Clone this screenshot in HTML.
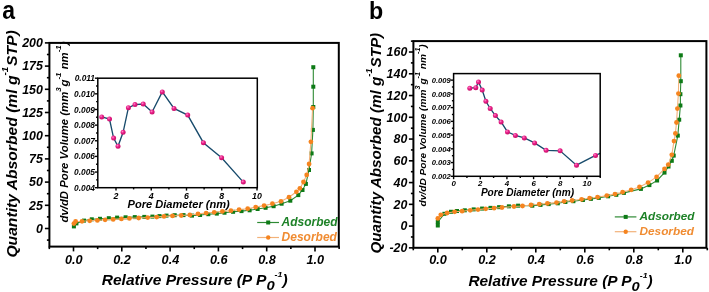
<!DOCTYPE html>
<html><head><meta charset="utf-8"><style>
html,body{margin:0;padding:0;background:#fff;width:709px;height:292px;overflow:hidden}
svg{display:block;will-change:transform}
</style></head><body>
<svg width="709" height="292" viewBox="0 0 709 292">
<rect width="709" height="292" fill="#fff"/>
<rect x="49.4" y="42.9" width="289.4" height="203.7" fill="none" stroke="#000" stroke-width="2"/>
<line x1="44.9" y1="228.5" x2="49.4" y2="228.5" stroke="#000" stroke-width="1.6"/>
<text x="42.9" y="232.7" font-size="12.4" text-anchor="end" fill="#000" font-family="&quot;Liberation Sans&quot;, sans-serif" font-weight="bold" font-style="italic" >0</text>
<line x1="44.9" y1="205.3" x2="49.4" y2="205.3" stroke="#000" stroke-width="1.6"/>
<text x="42.9" y="209.5" font-size="12.4" text-anchor="end" fill="#000" font-family="&quot;Liberation Sans&quot;, sans-serif" font-weight="bold" font-style="italic" >25</text>
<line x1="44.9" y1="182.1" x2="49.4" y2="182.1" stroke="#000" stroke-width="1.6"/>
<text x="42.9" y="186.3" font-size="12.4" text-anchor="end" fill="#000" font-family="&quot;Liberation Sans&quot;, sans-serif" font-weight="bold" font-style="italic" >50</text>
<line x1="44.9" y1="158.9" x2="49.4" y2="158.9" stroke="#000" stroke-width="1.6"/>
<text x="42.9" y="163.1" font-size="12.4" text-anchor="end" fill="#000" font-family="&quot;Liberation Sans&quot;, sans-serif" font-weight="bold" font-style="italic" >75</text>
<line x1="44.9" y1="135.7" x2="49.4" y2="135.7" stroke="#000" stroke-width="1.6"/>
<text x="42.9" y="139.9" font-size="12.4" text-anchor="end" fill="#000" font-family="&quot;Liberation Sans&quot;, sans-serif" font-weight="bold" font-style="italic" >100</text>
<line x1="44.9" y1="112.5" x2="49.4" y2="112.5" stroke="#000" stroke-width="1.6"/>
<text x="42.9" y="116.7" font-size="12.4" text-anchor="end" fill="#000" font-family="&quot;Liberation Sans&quot;, sans-serif" font-weight="bold" font-style="italic" >125</text>
<line x1="44.9" y1="89.3" x2="49.4" y2="89.3" stroke="#000" stroke-width="1.6"/>
<text x="42.9" y="93.5" font-size="12.4" text-anchor="end" fill="#000" font-family="&quot;Liberation Sans&quot;, sans-serif" font-weight="bold" font-style="italic" >150</text>
<line x1="44.9" y1="66.1" x2="49.4" y2="66.1" stroke="#000" stroke-width="1.6"/>
<text x="42.9" y="70.3" font-size="12.4" text-anchor="end" fill="#000" font-family="&quot;Liberation Sans&quot;, sans-serif" font-weight="bold" font-style="italic" >175</text>
<line x1="44.9" y1="42.9" x2="49.4" y2="42.9" stroke="#000" stroke-width="1.6"/>
<text x="42.9" y="47.1" font-size="12.4" text-anchor="end" fill="#000" font-family="&quot;Liberation Sans&quot;, sans-serif" font-weight="bold" font-style="italic" >200</text>
<line x1="46.9" y1="216.9" x2="49.4" y2="216.9" stroke="#000" stroke-width="1.6"/>
<line x1="46.9" y1="193.7" x2="49.4" y2="193.7" stroke="#000" stroke-width="1.6"/>
<line x1="46.9" y1="170.5" x2="49.4" y2="170.5" stroke="#000" stroke-width="1.6"/>
<line x1="46.9" y1="147.3" x2="49.4" y2="147.3" stroke="#000" stroke-width="1.6"/>
<line x1="46.9" y1="124.1" x2="49.4" y2="124.1" stroke="#000" stroke-width="1.6"/>
<line x1="46.9" y1="100.9" x2="49.4" y2="100.9" stroke="#000" stroke-width="1.6"/>
<line x1="46.9" y1="77.7" x2="49.4" y2="77.7" stroke="#000" stroke-width="1.6"/>
<line x1="46.9" y1="54.5" x2="49.4" y2="54.5" stroke="#000" stroke-width="1.6"/>
<line x1="46.9" y1="240.1" x2="49.4" y2="240.1" stroke="#000" stroke-width="1.6"/>
<line x1="73.5" y1="246.6" x2="73.5" y2="251.4" stroke="#000" stroke-width="1.6"/>
<text x="73.8" y="263.6" font-size="12.7" text-anchor="middle" fill="#000" font-family="&quot;Liberation Sans&quot;, sans-serif" font-weight="bold" font-style="italic" >0.0</text>
<line x1="121.8" y1="246.6" x2="121.8" y2="251.4" stroke="#000" stroke-width="1.6"/>
<text x="122.1" y="263.6" font-size="12.7" text-anchor="middle" fill="#000" font-family="&quot;Liberation Sans&quot;, sans-serif" font-weight="bold" font-style="italic" >0.2</text>
<line x1="170.1" y1="246.6" x2="170.1" y2="251.4" stroke="#000" stroke-width="1.6"/>
<text x="170.4" y="263.6" font-size="12.7" text-anchor="middle" fill="#000" font-family="&quot;Liberation Sans&quot;, sans-serif" font-weight="bold" font-style="italic" >0.4</text>
<line x1="218.4" y1="246.6" x2="218.4" y2="251.4" stroke="#000" stroke-width="1.6"/>
<text x="218.7" y="263.6" font-size="12.7" text-anchor="middle" fill="#000" font-family="&quot;Liberation Sans&quot;, sans-serif" font-weight="bold" font-style="italic" >0.6</text>
<line x1="266.7" y1="246.6" x2="266.7" y2="251.4" stroke="#000" stroke-width="1.6"/>
<text x="267" y="263.6" font-size="12.7" text-anchor="middle" fill="#000" font-family="&quot;Liberation Sans&quot;, sans-serif" font-weight="bold" font-style="italic" >0.8</text>
<line x1="315" y1="246.6" x2="315" y2="251.4" stroke="#000" stroke-width="1.6"/>
<text x="315.3" y="263.6" font-size="12.7" text-anchor="middle" fill="#000" font-family="&quot;Liberation Sans&quot;, sans-serif" font-weight="bold" font-style="italic" >1.0</text>
<line x1="49.35" y1="246.6" x2="49.35" y2="249.1" stroke="#000" stroke-width="1.6"/>
<line x1="97.65" y1="246.6" x2="97.65" y2="249.1" stroke="#000" stroke-width="1.6"/>
<line x1="145.95" y1="246.6" x2="145.95" y2="249.1" stroke="#000" stroke-width="1.6"/>
<line x1="194.25" y1="246.6" x2="194.25" y2="249.1" stroke="#000" stroke-width="1.6"/>
<line x1="242.55" y1="246.6" x2="242.55" y2="249.1" stroke="#000" stroke-width="1.6"/>
<line x1="290.85" y1="246.6" x2="290.85" y2="249.1" stroke="#000" stroke-width="1.6"/>
<line x1="339.15" y1="246.6" x2="339.15" y2="249.1" stroke="#000" stroke-width="1.6"/>
<rect x="413.4" y="41.1" width="293" height="206.7" fill="none" stroke="#000" stroke-width="2"/>
<line x1="408.9" y1="247.86" x2="413.4" y2="247.86" stroke="#000" stroke-width="1.6"/>
<text x="407.3" y="252.06" font-size="12.4" text-anchor="end" fill="#000" font-family="&quot;Liberation Sans&quot;, sans-serif" font-weight="bold" font-style="italic" >-20</text>
<line x1="408.9" y1="226.1" x2="413.4" y2="226.1" stroke="#000" stroke-width="1.6"/>
<text x="407.3" y="230.3" font-size="12.4" text-anchor="end" fill="#000" font-family="&quot;Liberation Sans&quot;, sans-serif" font-weight="bold" font-style="italic" >0</text>
<line x1="408.9" y1="204.34" x2="413.4" y2="204.34" stroke="#000" stroke-width="1.6"/>
<text x="407.3" y="208.54" font-size="12.4" text-anchor="end" fill="#000" font-family="&quot;Liberation Sans&quot;, sans-serif" font-weight="bold" font-style="italic" >20</text>
<line x1="408.9" y1="182.58" x2="413.4" y2="182.58" stroke="#000" stroke-width="1.6"/>
<text x="407.3" y="186.78" font-size="12.4" text-anchor="end" fill="#000" font-family="&quot;Liberation Sans&quot;, sans-serif" font-weight="bold" font-style="italic" >40</text>
<line x1="408.9" y1="160.82" x2="413.4" y2="160.82" stroke="#000" stroke-width="1.6"/>
<text x="407.3" y="165.02" font-size="12.4" text-anchor="end" fill="#000" font-family="&quot;Liberation Sans&quot;, sans-serif" font-weight="bold" font-style="italic" >60</text>
<line x1="408.9" y1="139.06" x2="413.4" y2="139.06" stroke="#000" stroke-width="1.6"/>
<text x="407.3" y="143.26" font-size="12.4" text-anchor="end" fill="#000" font-family="&quot;Liberation Sans&quot;, sans-serif" font-weight="bold" font-style="italic" >80</text>
<line x1="408.9" y1="117.3" x2="413.4" y2="117.3" stroke="#000" stroke-width="1.6"/>
<text x="407.3" y="121.5" font-size="12.4" text-anchor="end" fill="#000" font-family="&quot;Liberation Sans&quot;, sans-serif" font-weight="bold" font-style="italic" >100</text>
<line x1="408.9" y1="95.54" x2="413.4" y2="95.54" stroke="#000" stroke-width="1.6"/>
<text x="407.3" y="99.74" font-size="12.4" text-anchor="end" fill="#000" font-family="&quot;Liberation Sans&quot;, sans-serif" font-weight="bold" font-style="italic" >120</text>
<line x1="408.9" y1="73.78" x2="413.4" y2="73.78" stroke="#000" stroke-width="1.6"/>
<text x="407.3" y="77.98" font-size="12.4" text-anchor="end" fill="#000" font-family="&quot;Liberation Sans&quot;, sans-serif" font-weight="bold" font-style="italic" >140</text>
<line x1="408.9" y1="52.02" x2="413.4" y2="52.02" stroke="#000" stroke-width="1.6"/>
<text x="407.3" y="56.22" font-size="12.4" text-anchor="end" fill="#000" font-family="&quot;Liberation Sans&quot;, sans-serif" font-weight="bold" font-style="italic" >160</text>
<line x1="410.9" y1="236.98" x2="413.4" y2="236.98" stroke="#000" stroke-width="1.6"/>
<line x1="410.9" y1="215.22" x2="413.4" y2="215.22" stroke="#000" stroke-width="1.6"/>
<line x1="410.9" y1="193.46" x2="413.4" y2="193.46" stroke="#000" stroke-width="1.6"/>
<line x1="410.9" y1="171.7" x2="413.4" y2="171.7" stroke="#000" stroke-width="1.6"/>
<line x1="410.9" y1="149.94" x2="413.4" y2="149.94" stroke="#000" stroke-width="1.6"/>
<line x1="410.9" y1="128.18" x2="413.4" y2="128.18" stroke="#000" stroke-width="1.6"/>
<line x1="410.9" y1="106.42" x2="413.4" y2="106.42" stroke="#000" stroke-width="1.6"/>
<line x1="410.9" y1="84.66" x2="413.4" y2="84.66" stroke="#000" stroke-width="1.6"/>
<line x1="410.9" y1="62.9" x2="413.4" y2="62.9" stroke="#000" stroke-width="1.6"/>
<line x1="410.9" y1="41.14" x2="413.4" y2="41.14" stroke="#000" stroke-width="1.6"/>
<line x1="437.8" y1="247.8" x2="437.8" y2="252.6" stroke="#000" stroke-width="1.6"/>
<text x="438.1" y="264.3" font-size="12.7" text-anchor="middle" fill="#000" font-family="&quot;Liberation Sans&quot;, sans-serif" font-weight="bold" font-style="italic" >0.0</text>
<line x1="486.8" y1="247.8" x2="486.8" y2="252.6" stroke="#000" stroke-width="1.6"/>
<text x="487.1" y="264.3" font-size="12.7" text-anchor="middle" fill="#000" font-family="&quot;Liberation Sans&quot;, sans-serif" font-weight="bold" font-style="italic" >0.2</text>
<line x1="535.8" y1="247.8" x2="535.8" y2="252.6" stroke="#000" stroke-width="1.6"/>
<text x="536.1" y="264.3" font-size="12.7" text-anchor="middle" fill="#000" font-family="&quot;Liberation Sans&quot;, sans-serif" font-weight="bold" font-style="italic" >0.4</text>
<line x1="584.8" y1="247.8" x2="584.8" y2="252.6" stroke="#000" stroke-width="1.6"/>
<text x="585.1" y="264.3" font-size="12.7" text-anchor="middle" fill="#000" font-family="&quot;Liberation Sans&quot;, sans-serif" font-weight="bold" font-style="italic" >0.6</text>
<line x1="633.8" y1="247.8" x2="633.8" y2="252.6" stroke="#000" stroke-width="1.6"/>
<text x="634.1" y="264.3" font-size="12.7" text-anchor="middle" fill="#000" font-family="&quot;Liberation Sans&quot;, sans-serif" font-weight="bold" font-style="italic" >0.8</text>
<line x1="682.8" y1="247.8" x2="682.8" y2="252.6" stroke="#000" stroke-width="1.6"/>
<text x="683.1" y="264.3" font-size="12.7" text-anchor="middle" fill="#000" font-family="&quot;Liberation Sans&quot;, sans-serif" font-weight="bold" font-style="italic" >1.0</text>
<line x1="413.3" y1="247.8" x2="413.3" y2="250.3" stroke="#000" stroke-width="1.6"/>
<line x1="462.3" y1="247.8" x2="462.3" y2="250.3" stroke="#000" stroke-width="1.6"/>
<line x1="511.3" y1="247.8" x2="511.3" y2="250.3" stroke="#000" stroke-width="1.6"/>
<line x1="560.3" y1="247.8" x2="560.3" y2="250.3" stroke="#000" stroke-width="1.6"/>
<line x1="609.3" y1="247.8" x2="609.3" y2="250.3" stroke="#000" stroke-width="1.6"/>
<line x1="658.3" y1="247.8" x2="658.3" y2="250.3" stroke="#000" stroke-width="1.6"/>
<line x1="707.3" y1="247.8" x2="707.3" y2="250.3" stroke="#000" stroke-width="1.6"/>
<path d="M73.9,226.4 L76.4,223.4 L84,220.6 L91.8,219.3 L100,218.8 L108.8,218.2 L117.1,217.6 L125.6,217.3 L134.8,217.1 L144.3,216.9 L152.4,216.6 L159.5,216.1 L166.5,215.6 L174.7,215.2 L183.5,215.1 L192,215.6 L200.1,215 L208.3,214.2 L216.8,213.6 L224.5,212.7 L233.1,211.8 L241.5,211.1 L249.6,210.3 L257.6,209 L265.6,207.8 L273.6,206.2 L281.6,203.7 L290.3,200.7 L298.3,195.1 L302.5,190 L305.9,183.9 L309,170 L311.6,153.4 L312.9,129.9 L313.3,107 L313.3,86.7 L313.3,67.2" fill="none" stroke="#2e8a34" stroke-width="1.1"/>
<rect x="71.9" y="224.4" width="4" height="4" fill="#0d7a16"/>
<rect x="74.4" y="221.4" width="4" height="4" fill="#0d7a16"/>
<rect x="82" y="218.6" width="4" height="4" fill="#0d7a16"/>
<rect x="89.8" y="217.3" width="4" height="4" fill="#0d7a16"/>
<rect x="98" y="216.8" width="4" height="4" fill="#0d7a16"/>
<rect x="106.8" y="216.2" width="4" height="4" fill="#0d7a16"/>
<rect x="115.1" y="215.6" width="4" height="4" fill="#0d7a16"/>
<rect x="123.6" y="215.3" width="4" height="4" fill="#0d7a16"/>
<rect x="132.8" y="215.1" width="4" height="4" fill="#0d7a16"/>
<rect x="142.3" y="214.9" width="4" height="4" fill="#0d7a16"/>
<rect x="150.4" y="214.6" width="4" height="4" fill="#0d7a16"/>
<rect x="157.5" y="214.1" width="4" height="4" fill="#0d7a16"/>
<rect x="164.5" y="213.6" width="4" height="4" fill="#0d7a16"/>
<rect x="172.7" y="213.2" width="4" height="4" fill="#0d7a16"/>
<rect x="181.5" y="213.1" width="4" height="4" fill="#0d7a16"/>
<rect x="190" y="213.6" width="4" height="4" fill="#0d7a16"/>
<rect x="198.1" y="213" width="4" height="4" fill="#0d7a16"/>
<rect x="206.3" y="212.2" width="4" height="4" fill="#0d7a16"/>
<rect x="214.8" y="211.6" width="4" height="4" fill="#0d7a16"/>
<rect x="222.5" y="210.7" width="4" height="4" fill="#0d7a16"/>
<rect x="231.1" y="209.8" width="4" height="4" fill="#0d7a16"/>
<rect x="239.5" y="209.1" width="4" height="4" fill="#0d7a16"/>
<rect x="247.6" y="208.3" width="4" height="4" fill="#0d7a16"/>
<rect x="255.6" y="207" width="4" height="4" fill="#0d7a16"/>
<rect x="263.6" y="205.8" width="4" height="4" fill="#0d7a16"/>
<rect x="271.6" y="204.2" width="4" height="4" fill="#0d7a16"/>
<rect x="279.6" y="201.7" width="4" height="4" fill="#0d7a16"/>
<rect x="288.3" y="198.7" width="4" height="4" fill="#0d7a16"/>
<rect x="296.3" y="193.1" width="4" height="4" fill="#0d7a16"/>
<rect x="300.5" y="188" width="4" height="4" fill="#0d7a16"/>
<rect x="303.9" y="181.9" width="4" height="4" fill="#0d7a16"/>
<rect x="307" y="168" width="4" height="4" fill="#0d7a16"/>
<rect x="309.6" y="151.4" width="4" height="4" fill="#0d7a16"/>
<rect x="310.9" y="127.9" width="4" height="4" fill="#0d7a16"/>
<rect x="311.3" y="105" width="4" height="4" fill="#0d7a16"/>
<rect x="311.3" y="84.7" width="4" height="4" fill="#0d7a16"/>
<rect x="311.3" y="65.2" width="4" height="4" fill="#0d7a16"/>
<path d="M73.9,223.6 L75.6,221.5 L82,221.3 L89.7,220.8 L97.4,220.4 L105.1,219.8 L113.2,219.4 L121.4,218.9 L129.4,218.4 L138.7,218 L147.7,217.6 L156.7,217.1 L164,216.4 L172.5,215.9 L181.2,215.5 L189.8,215 L198,213.9 L206.1,213.1 L214.2,212.3 L222.4,211.4 L230.9,210.7 L239.1,209.6 L247.7,208.7 L255.7,207.1 L264.1,205.6 L272.4,203.7 L281,201.3 L289,197.2 L296.4,191.8 L299.9,188.3 L303.5,182 L306.7,174.9 L309.1,164 L310.9,141.8 L312.6,108.2" fill="none" stroke="#f2b27a" stroke-width="1.1"/>
<circle cx="73.9" cy="223.6" r="2.4" fill="#f5841f"/>
<circle cx="75.6" cy="221.5" r="2.4" fill="#f5841f"/>
<circle cx="82" cy="221.3" r="2.4" fill="#f5841f"/>
<circle cx="89.7" cy="220.8" r="2.4" fill="#f5841f"/>
<circle cx="97.4" cy="220.4" r="2.4" fill="#f5841f"/>
<circle cx="105.1" cy="219.8" r="2.4" fill="#f5841f"/>
<circle cx="113.2" cy="219.4" r="2.4" fill="#f5841f"/>
<circle cx="121.4" cy="218.9" r="2.4" fill="#f5841f"/>
<circle cx="129.4" cy="218.4" r="2.4" fill="#f5841f"/>
<circle cx="138.7" cy="218" r="2.4" fill="#f5841f"/>
<circle cx="147.7" cy="217.6" r="2.4" fill="#f5841f"/>
<circle cx="156.7" cy="217.1" r="2.4" fill="#f5841f"/>
<circle cx="164" cy="216.4" r="2.4" fill="#f5841f"/>
<circle cx="172.5" cy="215.9" r="2.4" fill="#f5841f"/>
<circle cx="181.2" cy="215.5" r="2.4" fill="#f5841f"/>
<circle cx="189.8" cy="215" r="2.4" fill="#f5841f"/>
<circle cx="198" cy="213.9" r="2.4" fill="#f5841f"/>
<circle cx="206.1" cy="213.1" r="2.4" fill="#f5841f"/>
<circle cx="214.2" cy="212.3" r="2.4" fill="#f5841f"/>
<circle cx="222.4" cy="211.4" r="2.4" fill="#f5841f"/>
<circle cx="230.9" cy="210.7" r="2.4" fill="#f5841f"/>
<circle cx="239.1" cy="209.6" r="2.4" fill="#f5841f"/>
<circle cx="247.7" cy="208.7" r="2.4" fill="#f5841f"/>
<circle cx="255.7" cy="207.1" r="2.4" fill="#f5841f"/>
<circle cx="264.1" cy="205.6" r="2.4" fill="#f5841f"/>
<circle cx="272.4" cy="203.7" r="2.4" fill="#f5841f"/>
<circle cx="281" cy="201.3" r="2.4" fill="#f5841f"/>
<circle cx="289" cy="197.2" r="2.4" fill="#f5841f"/>
<circle cx="296.4" cy="191.8" r="2.4" fill="#f5841f"/>
<circle cx="299.9" cy="188.3" r="2.4" fill="#f5841f"/>
<circle cx="303.5" cy="182" r="2.4" fill="#f5841f"/>
<circle cx="306.7" cy="174.9" r="2.4" fill="#f5841f"/>
<circle cx="309.1" cy="164" r="2.4" fill="#f5841f"/>
<circle cx="310.9" cy="141.8" r="2.4" fill="#f5841f"/>
<circle cx="312.6" cy="108.2" r="2.4" fill="#f5841f"/>
<path d="M437.8,225.5 L437.8,222 L444.4,213.8 L451,211.78 L457,211.01 L464.8,210.3 L473.7,209.39 L482.1,208.57 L490.5,207.86 L499.1,207.16 L508.9,206.33 L518.1,205.66 L532.3,205.7 L540.5,204.9 L548.7,204.1 L557.8,203.3 L565.4,202 L573.4,201.2 L582.9,200 L590.9,198.9 L598.8,197.9 L608.1,196.3 L616.3,194.8 L623.9,192.9 L640.9,188.9 L649.4,185.1 L657.1,180.5 L664.5,172.6 L668.5,166.5 L671.8,160.8 L673.7,155.6 L677.8,135.6 L679.2,119.7 L680.4,105.5 L680.4,94.2 L680.8,81.2 L680.8,55.3" fill="none" stroke="#2e8a34" stroke-width="1.1"/>
<rect x="435.8" y="223.5" width="4" height="4" fill="#0d7a16"/>
<rect x="435.8" y="220" width="4" height="4" fill="#0d7a16"/>
<rect x="442.4" y="211.8" width="4" height="4" fill="#0d7a16"/>
<rect x="449" y="209.78" width="4" height="4" fill="#0d7a16"/>
<rect x="455" y="209.01" width="4" height="4" fill="#0d7a16"/>
<rect x="462.8" y="208.3" width="4" height="4" fill="#0d7a16"/>
<rect x="471.7" y="207.39" width="4" height="4" fill="#0d7a16"/>
<rect x="480.1" y="206.57" width="4" height="4" fill="#0d7a16"/>
<rect x="488.5" y="205.86" width="4" height="4" fill="#0d7a16"/>
<rect x="497.1" y="205.16" width="4" height="4" fill="#0d7a16"/>
<rect x="506.9" y="204.33" width="4" height="4" fill="#0d7a16"/>
<rect x="516.1" y="203.66" width="4" height="4" fill="#0d7a16"/>
<rect x="530.3" y="203.7" width="4" height="4" fill="#0d7a16"/>
<rect x="538.5" y="202.9" width="4" height="4" fill="#0d7a16"/>
<rect x="546.7" y="202.1" width="4" height="4" fill="#0d7a16"/>
<rect x="555.8" y="201.3" width="4" height="4" fill="#0d7a16"/>
<rect x="563.4" y="200" width="4" height="4" fill="#0d7a16"/>
<rect x="571.4" y="199.2" width="4" height="4" fill="#0d7a16"/>
<rect x="580.9" y="198" width="4" height="4" fill="#0d7a16"/>
<rect x="588.9" y="196.9" width="4" height="4" fill="#0d7a16"/>
<rect x="596.8" y="195.9" width="4" height="4" fill="#0d7a16"/>
<rect x="606.1" y="194.3" width="4" height="4" fill="#0d7a16"/>
<rect x="614.3" y="192.8" width="4" height="4" fill="#0d7a16"/>
<rect x="621.9" y="190.9" width="4" height="4" fill="#0d7a16"/>
<rect x="638.9" y="186.9" width="4" height="4" fill="#0d7a16"/>
<rect x="647.4" y="183.1" width="4" height="4" fill="#0d7a16"/>
<rect x="655.1" y="178.5" width="4" height="4" fill="#0d7a16"/>
<rect x="662.5" y="170.6" width="4" height="4" fill="#0d7a16"/>
<rect x="666.5" y="164.5" width="4" height="4" fill="#0d7a16"/>
<rect x="669.8" y="158.8" width="4" height="4" fill="#0d7a16"/>
<rect x="671.7" y="153.6" width="4" height="4" fill="#0d7a16"/>
<rect x="675.8" y="133.6" width="4" height="4" fill="#0d7a16"/>
<rect x="677.2" y="117.7" width="4" height="4" fill="#0d7a16"/>
<rect x="678.4" y="103.5" width="4" height="4" fill="#0d7a16"/>
<rect x="678.4" y="92.2" width="4" height="4" fill="#0d7a16"/>
<rect x="678.8" y="79.2" width="4" height="4" fill="#0d7a16"/>
<rect x="678.8" y="53.3" width="4" height="4" fill="#0d7a16"/>
<path d="M437.8,218.4 L440.8,214.8 L447.1,213 L454.6,211.8 L462.1,211.2 L470.2,210.3 L478,209.6 L485.7,208.8 L494.1,208.2 L502,207.5 L514,206.5 L522.5,206 L531,205 L539.2,204.2 L547.4,203.4 L556.5,202.6 L564.1,201.3 L572.1,200.5 L581.6,199.3 L589.6,198.2 L597.5,197.2 L606.8,195.6 L615,194.1 L622.6,192.2 L631.2,189.8 L639.5,187 L648.1,182.6 L656.6,176.9 L664.5,168.9 L668.3,164.6 L671.8,154.8 L674,141.1 L675.4,133.4 L676.5,122.5 L677.4,108.6 L678.4,93.6 L678.8,75.7" fill="none" stroke="#f2b27a" stroke-width="1.1"/>
<circle cx="437.8" cy="218.4" r="2.4" fill="#f5841f"/>
<circle cx="440.8" cy="214.8" r="2.4" fill="#f5841f"/>
<circle cx="447.1" cy="213" r="2.4" fill="#f5841f"/>
<circle cx="454.6" cy="211.8" r="2.4" fill="#f5841f"/>
<circle cx="462.1" cy="211.2" r="2.4" fill="#f5841f"/>
<circle cx="470.2" cy="210.3" r="2.4" fill="#f5841f"/>
<circle cx="478" cy="209.6" r="2.4" fill="#f5841f"/>
<circle cx="485.7" cy="208.8" r="2.4" fill="#f5841f"/>
<circle cx="494.1" cy="208.2" r="2.4" fill="#f5841f"/>
<circle cx="502" cy="207.5" r="2.4" fill="#f5841f"/>
<circle cx="514" cy="206.5" r="2.4" fill="#f5841f"/>
<circle cx="522.5" cy="206" r="2.4" fill="#f5841f"/>
<circle cx="531" cy="205" r="2.4" fill="#f5841f"/>
<circle cx="539.2" cy="204.2" r="2.4" fill="#f5841f"/>
<circle cx="547.4" cy="203.4" r="2.4" fill="#f5841f"/>
<circle cx="556.5" cy="202.6" r="2.4" fill="#f5841f"/>
<circle cx="564.1" cy="201.3" r="2.4" fill="#f5841f"/>
<circle cx="572.1" cy="200.5" r="2.4" fill="#f5841f"/>
<circle cx="581.6" cy="199.3" r="2.4" fill="#f5841f"/>
<circle cx="589.6" cy="198.2" r="2.4" fill="#f5841f"/>
<circle cx="597.5" cy="197.2" r="2.4" fill="#f5841f"/>
<circle cx="606.8" cy="195.6" r="2.4" fill="#f5841f"/>
<circle cx="615" cy="194.1" r="2.4" fill="#f5841f"/>
<circle cx="622.6" cy="192.2" r="2.4" fill="#f5841f"/>
<circle cx="631.2" cy="189.8" r="2.4" fill="#f5841f"/>
<circle cx="639.5" cy="187" r="2.4" fill="#f5841f"/>
<circle cx="648.1" cy="182.6" r="2.4" fill="#f5841f"/>
<circle cx="656.6" cy="176.9" r="2.4" fill="#f5841f"/>
<circle cx="664.5" cy="168.9" r="2.4" fill="#f5841f"/>
<circle cx="668.3" cy="164.6" r="2.4" fill="#f5841f"/>
<circle cx="671.8" cy="154.8" r="2.4" fill="#f5841f"/>
<circle cx="674" cy="141.1" r="2.4" fill="#f5841f"/>
<circle cx="675.4" cy="133.4" r="2.4" fill="#f5841f"/>
<circle cx="676.5" cy="122.5" r="2.4" fill="#f5841f"/>
<circle cx="677.4" cy="108.6" r="2.4" fill="#f5841f"/>
<circle cx="678.4" cy="93.6" r="2.4" fill="#f5841f"/>
<circle cx="678.8" cy="75.7" r="2.4" fill="#f5841f"/>
<line x1="257.2" y1="222.5" x2="279" y2="222.5" stroke="#2e8a34" stroke-width="1.2"/>
<rect x="266.2" y="220.5" width="4" height="4" fill="#0d7a16"/>
<line x1="257.2" y1="237.5" x2="279" y2="237.5" stroke="#f2b27a" stroke-width="1.2"/>
<circle cx="268.2" cy="237.5" r="2.2" fill="#f5841f"/>
<text x="281.6" y="226" font-size="12" text-anchor="start" fill="#1e8228" font-family="&quot;Liberation Sans&quot;, sans-serif" font-weight="bold" font-style="italic" >Adsorbed</text>
<text x="281.6" y="241" font-size="12" text-anchor="start" fill="#f08c32" font-family="&quot;Liberation Sans&quot;, sans-serif" font-weight="bold" font-style="italic" >Desorbed</text>
<line x1="614.8" y1="216.9" x2="636.4" y2="216.9" stroke="#2e8a34" stroke-width="1.2"/>
<rect x="623.7" y="214.9" width="4" height="4" fill="#0d7a16"/>
<line x1="614.8" y1="231.7" x2="636.4" y2="231.7" stroke="#f2b27a" stroke-width="1.2"/>
<circle cx="625.7" cy="231.7" r="2.2" fill="#f5841f"/>
<text x="639.5" y="219.6" font-size="11.8" text-anchor="start" fill="#1e8228" font-family="&quot;Liberation Sans&quot;, sans-serif" font-weight="bold" font-style="italic" >Adsorbed</text>
<text x="639.5" y="234.8" font-size="11.8" text-anchor="start" fill="#f08c32" font-family="&quot;Liberation Sans&quot;, sans-serif" font-weight="bold" font-style="italic" >Desorbed</text>
<defs><radialGradient id="pg" cx="0.38" cy="0.35" r="0.65"><stop offset="0" stop-color="#ff8cc8"/><stop offset="0.45" stop-color="#e8208a"/><stop offset="1" stop-color="#c80f68"/></radialGradient></defs>
<rect x="97.8" y="78.2" width="159.5" height="109.5" fill="#fff" stroke="none"/>
<g clip-path="url(#c97)"><path d="M101.7,116.9 L109.5,119 L113.6,138.1 L118,146.3 L123.1,132.3 L128.4,107.7 L135,104.6 L143.2,104 L152.1,112 L162.3,91.9 L174,108.4 L187.7,115.1 L203.4,142.7 L221.6,157.7 L243.3,182.1" fill="none" stroke="#184b6c" stroke-width="1.35"/></g>
<clipPath id="c97"><rect x="97.8" y="78.2" width="159.5" height="109.5"/></clipPath>
<circle cx="101.7" cy="116.9" r="2.5" fill="url(#pg)"/>
<circle cx="109.5" cy="119" r="2.5" fill="url(#pg)"/>
<circle cx="113.6" cy="138.1" r="2.5" fill="url(#pg)"/>
<circle cx="118" cy="146.3" r="2.5" fill="url(#pg)"/>
<circle cx="123.1" cy="132.3" r="2.5" fill="url(#pg)"/>
<circle cx="128.4" cy="107.7" r="2.5" fill="url(#pg)"/>
<circle cx="135" cy="104.6" r="2.5" fill="url(#pg)"/>
<circle cx="143.2" cy="104" r="2.5" fill="url(#pg)"/>
<circle cx="152.1" cy="112" r="2.5" fill="url(#pg)"/>
<circle cx="162.3" cy="91.9" r="2.5" fill="url(#pg)"/>
<circle cx="174" cy="108.4" r="2.5" fill="url(#pg)"/>
<circle cx="187.7" cy="115.1" r="2.5" fill="url(#pg)"/>
<circle cx="203.4" cy="142.7" r="2.5" fill="url(#pg)"/>
<circle cx="221.6" cy="157.7" r="2.5" fill="url(#pg)"/>
<circle cx="243.3" cy="182.1" r="2.5" fill="url(#pg)"/>
<rect x="97.8" y="78.2" width="159.5" height="109.5" fill="none" stroke="#000" stroke-width="1.5"/>
<line x1="94.9" y1="187.7" x2="97.8" y2="187.7" stroke="#000" stroke-width="1.4"/>
<text x="95" y="190.72" font-size="8.4" text-anchor="end" fill="#000" font-family="&quot;Liberation Sans&quot;, sans-serif" font-weight="bold" font-style="italic" >0.004</text>
<line x1="94.9" y1="172.06" x2="97.8" y2="172.06" stroke="#000" stroke-width="1.4"/>
<text x="95" y="175.08" font-size="8.4" text-anchor="end" fill="#000" font-family="&quot;Liberation Sans&quot;, sans-serif" font-weight="bold" font-style="italic" >0.005</text>
<line x1="94.9" y1="156.41" x2="97.8" y2="156.41" stroke="#000" stroke-width="1.4"/>
<text x="95" y="159.44" font-size="8.4" text-anchor="end" fill="#000" font-family="&quot;Liberation Sans&quot;, sans-serif" font-weight="bold" font-style="italic" >0.006</text>
<line x1="94.9" y1="140.77" x2="97.8" y2="140.77" stroke="#000" stroke-width="1.4"/>
<text x="95" y="143.79" font-size="8.4" text-anchor="end" fill="#000" font-family="&quot;Liberation Sans&quot;, sans-serif" font-weight="bold" font-style="italic" >0.007</text>
<line x1="94.9" y1="125.13" x2="97.8" y2="125.13" stroke="#000" stroke-width="1.4"/>
<text x="95" y="128.15" font-size="8.4" text-anchor="end" fill="#000" font-family="&quot;Liberation Sans&quot;, sans-serif" font-weight="bold" font-style="italic" >0.008</text>
<line x1="94.9" y1="109.48" x2="97.8" y2="109.48" stroke="#000" stroke-width="1.4"/>
<text x="95" y="112.51" font-size="8.4" text-anchor="end" fill="#000" font-family="&quot;Liberation Sans&quot;, sans-serif" font-weight="bold" font-style="italic" >0.009</text>
<line x1="94.9" y1="93.84" x2="97.8" y2="93.84" stroke="#000" stroke-width="1.4"/>
<text x="95" y="96.87" font-size="8.4" text-anchor="end" fill="#000" font-family="&quot;Liberation Sans&quot;, sans-serif" font-weight="bold" font-style="italic" >0.010</text>
<line x1="94.9" y1="78.2" x2="97.8" y2="78.2" stroke="#000" stroke-width="1.4"/>
<text x="95" y="81.22" font-size="8.4" text-anchor="end" fill="#000" font-family="&quot;Liberation Sans&quot;, sans-serif" font-weight="bold" font-style="italic" >0.011</text>
<line x1="96.1" y1="179.88" x2="97.8" y2="179.88" stroke="#000" stroke-width="1.4"/>
<line x1="96.1" y1="164.24" x2="97.8" y2="164.24" stroke="#000" stroke-width="1.4"/>
<line x1="96.1" y1="148.59" x2="97.8" y2="148.59" stroke="#000" stroke-width="1.4"/>
<line x1="96.1" y1="132.95" x2="97.8" y2="132.95" stroke="#000" stroke-width="1.4"/>
<line x1="96.1" y1="117.31" x2="97.8" y2="117.31" stroke="#000" stroke-width="1.4"/>
<line x1="96.1" y1="101.66" x2="97.8" y2="101.66" stroke="#000" stroke-width="1.4"/>
<line x1="96.1" y1="86.02" x2="97.8" y2="86.02" stroke="#000" stroke-width="1.4"/>
<line x1="116" y1="187.7" x2="116" y2="190.6" stroke="#000" stroke-width="1.4"/>
<text x="116" y="198.6" font-size="8.8" text-anchor="middle" fill="#000" font-family="&quot;Liberation Sans&quot;, sans-serif" font-weight="bold" font-style="italic" >2</text>
<line x1="151.25" y1="187.7" x2="151.25" y2="190.6" stroke="#000" stroke-width="1.4"/>
<text x="151.25" y="198.6" font-size="8.8" text-anchor="middle" fill="#000" font-family="&quot;Liberation Sans&quot;, sans-serif" font-weight="bold" font-style="italic" >4</text>
<line x1="186.5" y1="187.7" x2="186.5" y2="190.6" stroke="#000" stroke-width="1.4"/>
<text x="186.5" y="198.6" font-size="8.8" text-anchor="middle" fill="#000" font-family="&quot;Liberation Sans&quot;, sans-serif" font-weight="bold" font-style="italic" >6</text>
<line x1="221.75" y1="187.7" x2="221.75" y2="190.6" stroke="#000" stroke-width="1.4"/>
<text x="221.75" y="198.6" font-size="8.8" text-anchor="middle" fill="#000" font-family="&quot;Liberation Sans&quot;, sans-serif" font-weight="bold" font-style="italic" >8</text>
<line x1="257" y1="187.7" x2="257" y2="190.6" stroke="#000" stroke-width="1.4"/>
<text x="257" y="198.6" font-size="8.8" text-anchor="middle" fill="#000" font-family="&quot;Liberation Sans&quot;, sans-serif" font-weight="bold" font-style="italic" >10</text>
<line x1="133.62" y1="187.7" x2="133.62" y2="189.4" stroke="#000" stroke-width="1.4"/>
<line x1="168.88" y1="187.7" x2="168.88" y2="189.4" stroke="#000" stroke-width="1.4"/>
<line x1="204.12" y1="187.7" x2="204.12" y2="189.4" stroke="#000" stroke-width="1.4"/>
<line x1="239.38" y1="187.7" x2="239.38" y2="189.4" stroke="#000" stroke-width="1.4"/>
<rect x="453.6" y="73.6" width="146.6" height="102.7" fill="#fff" stroke="none"/>
<g clip-path="url(#c453)"><path d="M469.8,88.2 L475.8,87.7 L478.5,82 L482.2,90.1 L485.9,101.3 L490.2,108.5 L495.4,115.6 L501.1,122 L507.5,131.9 L515.4,135.4 L524.3,137.9 L534.6,142.9 L546.1,150.3 L560.1,150.8 L576.5,165.2 L595.5,155.4 L612,148" fill="none" stroke="#184b6c" stroke-width="1.35"/></g>
<clipPath id="c453"><rect x="453.6" y="73.6" width="146.6" height="102.7"/></clipPath>
<circle cx="469.8" cy="88.2" r="2.5" fill="url(#pg)"/>
<circle cx="475.8" cy="87.7" r="2.5" fill="url(#pg)"/>
<circle cx="478.5" cy="82" r="2.5" fill="url(#pg)"/>
<circle cx="482.2" cy="90.1" r="2.5" fill="url(#pg)"/>
<circle cx="485.9" cy="101.3" r="2.5" fill="url(#pg)"/>
<circle cx="490.2" cy="108.5" r="2.5" fill="url(#pg)"/>
<circle cx="495.4" cy="115.6" r="2.5" fill="url(#pg)"/>
<circle cx="501.1" cy="122" r="2.5" fill="url(#pg)"/>
<circle cx="507.5" cy="131.9" r="2.5" fill="url(#pg)"/>
<circle cx="515.4" cy="135.4" r="2.5" fill="url(#pg)"/>
<circle cx="524.3" cy="137.9" r="2.5" fill="url(#pg)"/>
<circle cx="534.6" cy="142.9" r="2.5" fill="url(#pg)"/>
<circle cx="546.1" cy="150.3" r="2.5" fill="url(#pg)"/>
<circle cx="560.1" cy="150.8" r="2.5" fill="url(#pg)"/>
<circle cx="576.5" cy="165.2" r="2.5" fill="url(#pg)"/>
<circle cx="595.5" cy="155.4" r="2.5" fill="url(#pg)"/>
<rect x="453.6" y="73.6" width="146.6" height="102.7" fill="none" stroke="#000" stroke-width="1.5"/>
<line x1="450.7" y1="176.3" x2="453.6" y2="176.3" stroke="#000" stroke-width="1.4"/>
<text x="450.8" y="179.04" font-size="7.6" text-anchor="end" fill="#000" font-family="&quot;Liberation Sans&quot;, sans-serif" font-weight="bold" font-style="italic" >0.002</text>
<line x1="450.7" y1="162.56" x2="453.6" y2="162.56" stroke="#000" stroke-width="1.4"/>
<text x="450.8" y="165.3" font-size="7.6" text-anchor="end" fill="#000" font-family="&quot;Liberation Sans&quot;, sans-serif" font-weight="bold" font-style="italic" >0.003</text>
<line x1="450.7" y1="148.82" x2="453.6" y2="148.82" stroke="#000" stroke-width="1.4"/>
<text x="450.8" y="151.56" font-size="7.6" text-anchor="end" fill="#000" font-family="&quot;Liberation Sans&quot;, sans-serif" font-weight="bold" font-style="italic" >0.004</text>
<line x1="450.7" y1="135.08" x2="453.6" y2="135.08" stroke="#000" stroke-width="1.4"/>
<text x="450.8" y="137.82" font-size="7.6" text-anchor="end" fill="#000" font-family="&quot;Liberation Sans&quot;, sans-serif" font-weight="bold" font-style="italic" >0.005</text>
<line x1="450.7" y1="121.34" x2="453.6" y2="121.34" stroke="#000" stroke-width="1.4"/>
<text x="450.8" y="124.08" font-size="7.6" text-anchor="end" fill="#000" font-family="&quot;Liberation Sans&quot;, sans-serif" font-weight="bold" font-style="italic" >0.006</text>
<line x1="450.7" y1="107.6" x2="453.6" y2="107.6" stroke="#000" stroke-width="1.4"/>
<text x="450.8" y="110.34" font-size="7.6" text-anchor="end" fill="#000" font-family="&quot;Liberation Sans&quot;, sans-serif" font-weight="bold" font-style="italic" >0.007</text>
<line x1="450.7" y1="93.86" x2="453.6" y2="93.86" stroke="#000" stroke-width="1.4"/>
<text x="450.8" y="96.6" font-size="7.6" text-anchor="end" fill="#000" font-family="&quot;Liberation Sans&quot;, sans-serif" font-weight="bold" font-style="italic" >0.008</text>
<line x1="450.7" y1="80.12" x2="453.6" y2="80.12" stroke="#000" stroke-width="1.4"/>
<text x="450.8" y="82.86" font-size="7.6" text-anchor="end" fill="#000" font-family="&quot;Liberation Sans&quot;, sans-serif" font-weight="bold" font-style="italic" >0.009</text>
<line x1="451.9" y1="169.43" x2="453.6" y2="169.43" stroke="#000" stroke-width="1.4"/>
<line x1="451.9" y1="155.69" x2="453.6" y2="155.69" stroke="#000" stroke-width="1.4"/>
<line x1="451.9" y1="141.95" x2="453.6" y2="141.95" stroke="#000" stroke-width="1.4"/>
<line x1="451.9" y1="128.21" x2="453.6" y2="128.21" stroke="#000" stroke-width="1.4"/>
<line x1="451.9" y1="114.47" x2="453.6" y2="114.47" stroke="#000" stroke-width="1.4"/>
<line x1="451.9" y1="100.73" x2="453.6" y2="100.73" stroke="#000" stroke-width="1.4"/>
<line x1="451.9" y1="86.99" x2="453.6" y2="86.99" stroke="#000" stroke-width="1.4"/>
<line x1="453.6" y1="176.3" x2="453.6" y2="179.2" stroke="#000" stroke-width="1.4"/>
<text x="453.6" y="185.9" font-size="7.9" text-anchor="middle" fill="#000" font-family="&quot;Liberation Sans&quot;, sans-serif" font-weight="bold" font-style="italic" >0</text>
<line x1="480.26" y1="176.3" x2="480.26" y2="179.2" stroke="#000" stroke-width="1.4"/>
<text x="480.26" y="185.9" font-size="7.9" text-anchor="middle" fill="#000" font-family="&quot;Liberation Sans&quot;, sans-serif" font-weight="bold" font-style="italic" >2</text>
<line x1="506.92" y1="176.3" x2="506.92" y2="179.2" stroke="#000" stroke-width="1.4"/>
<text x="506.92" y="185.9" font-size="7.9" text-anchor="middle" fill="#000" font-family="&quot;Liberation Sans&quot;, sans-serif" font-weight="bold" font-style="italic" >4</text>
<line x1="533.58" y1="176.3" x2="533.58" y2="179.2" stroke="#000" stroke-width="1.4"/>
<text x="533.58" y="185.9" font-size="7.9" text-anchor="middle" fill="#000" font-family="&quot;Liberation Sans&quot;, sans-serif" font-weight="bold" font-style="italic" >6</text>
<line x1="560.24" y1="176.3" x2="560.24" y2="179.2" stroke="#000" stroke-width="1.4"/>
<text x="560.24" y="185.9" font-size="7.9" text-anchor="middle" fill="#000" font-family="&quot;Liberation Sans&quot;, sans-serif" font-weight="bold" font-style="italic" >8</text>
<line x1="586.9" y1="176.3" x2="586.9" y2="179.2" stroke="#000" stroke-width="1.4"/>
<text x="586.9" y="185.9" font-size="7.9" text-anchor="middle" fill="#000" font-family="&quot;Liberation Sans&quot;, sans-serif" font-weight="bold" font-style="italic" >10</text>
<line x1="466.93" y1="176.3" x2="466.93" y2="178" stroke="#000" stroke-width="1.4"/>
<line x1="493.59" y1="176.3" x2="493.59" y2="178" stroke="#000" stroke-width="1.4"/>
<line x1="520.25" y1="176.3" x2="520.25" y2="178" stroke="#000" stroke-width="1.4"/>
<line x1="546.91" y1="176.3" x2="546.91" y2="178" stroke="#000" stroke-width="1.4"/>
<line x1="573.57" y1="176.3" x2="573.57" y2="178" stroke="#000" stroke-width="1.4"/>
<line x1="600.23" y1="176.3" x2="600.23" y2="178" stroke="#000" stroke-width="1.4"/>
<text transform="translate(127.5,207.9) scale(1.047,1)" font-size="10.6" text-anchor="start" fill="#000" font-family="&quot;Liberation Sans&quot;, sans-serif" font-weight="bold" font-style="italic" >Pore Diameter (nm)</text>
<text x="480.9" y="196" font-size="10.1" text-anchor="start" fill="#000" font-family="&quot;Liberation Sans&quot;, sans-serif" font-weight="bold" font-style="italic" >Pore Diameter (nm)</text>
<text transform="translate(68.2,222.5) rotate(-90) scale(1.093,1)" font-size="10.4" font-family="&quot;Liberation Sans&quot;, sans-serif" font-weight="bold" font-style="italic">dv/dD Pore Volume (mm<tspan font-size="7.28" dy="-7.07">3</tspan><tspan dy="7.07" dx="0.8">g</tspan><tspan font-size="7.28" dy="-7.07">-1</tspan><tspan dy="7.07"> nm</tspan><tspan font-size="7.28" dy="-7.07">-1</tspan><tspan dy="7.07">)</tspan></text>
<text transform="translate(426.3,206.5) rotate(-90) scale(1.083,1)" font-size="9.4" font-family="&quot;Liberation Sans&quot;, sans-serif" font-weight="bold" font-style="italic">dv/dD Pore Volume (mm<tspan font-size="6.58" dy="-6.39">3</tspan><tspan dy="6.39" dx="0.8">g</tspan><tspan font-size="6.58" dy="-6.39">-1</tspan><tspan dy="6.39"> nm</tspan><tspan font-size="6.58" dy="-6.39">-1</tspan><tspan dy="6.39">)</tspan></text>
<text transform="translate(17,257.6) rotate(-90) scale(1.052,1)" font-size="14.9" font-family="&quot;Liberation Sans&quot;, sans-serif" font-weight="bold" font-style="italic">Quantity Absorbed (ml g<tspan font-size="9.24" dy="-8.64">-1</tspan><tspan dy="8.64" dx="0.8">STP)</tspan></text>
<text transform="translate(380.6,253.6) rotate(-90) scale(1.022,1)" font-size="14.9" font-family="&quot;Liberation Sans&quot;, sans-serif" font-weight="bold" font-style="italic">Quantity Absorbed (ml g<tspan font-size="9.24" dy="-8.64">-1</tspan><tspan dy="8.64" dx="0.8">STP)</tspan></text>
<text transform="translate(101.7,285.2) scale(1.113,1)" font-size="14" font-family="&quot;Liberation Sans&quot;, sans-serif" font-weight="bold" font-style="italic">Relative Pressure (P P<tspan font-size="13.30" dy="5.04">0</tspan><tspan font-size="7.98" dy="-13.24">-1</tspan><tspan dy="8.20">)</tspan></text>
<text transform="translate(468.4,286.3) scale(1.103,1)" font-size="14" font-family="&quot;Liberation Sans&quot;, sans-serif" font-weight="bold" font-style="italic">Relative Pressure (P P<tspan font-size="13.30" dy="5.04">0</tspan><tspan font-size="7.98" dy="-13.24">-1</tspan><tspan dy="8.20">)</tspan></text>
<text transform="translate(2.3,19.0) scale(0.9,1)" font-size="25.5" font-family="&quot;Liberation Sans&quot;, sans-serif" font-weight="bold">a</text>
<text transform="translate(369,18.5) scale(0.97,1)" font-size="24" font-family="&quot;Liberation Sans&quot;, sans-serif" font-weight="bold">b</text>
</svg>
</body></html>
